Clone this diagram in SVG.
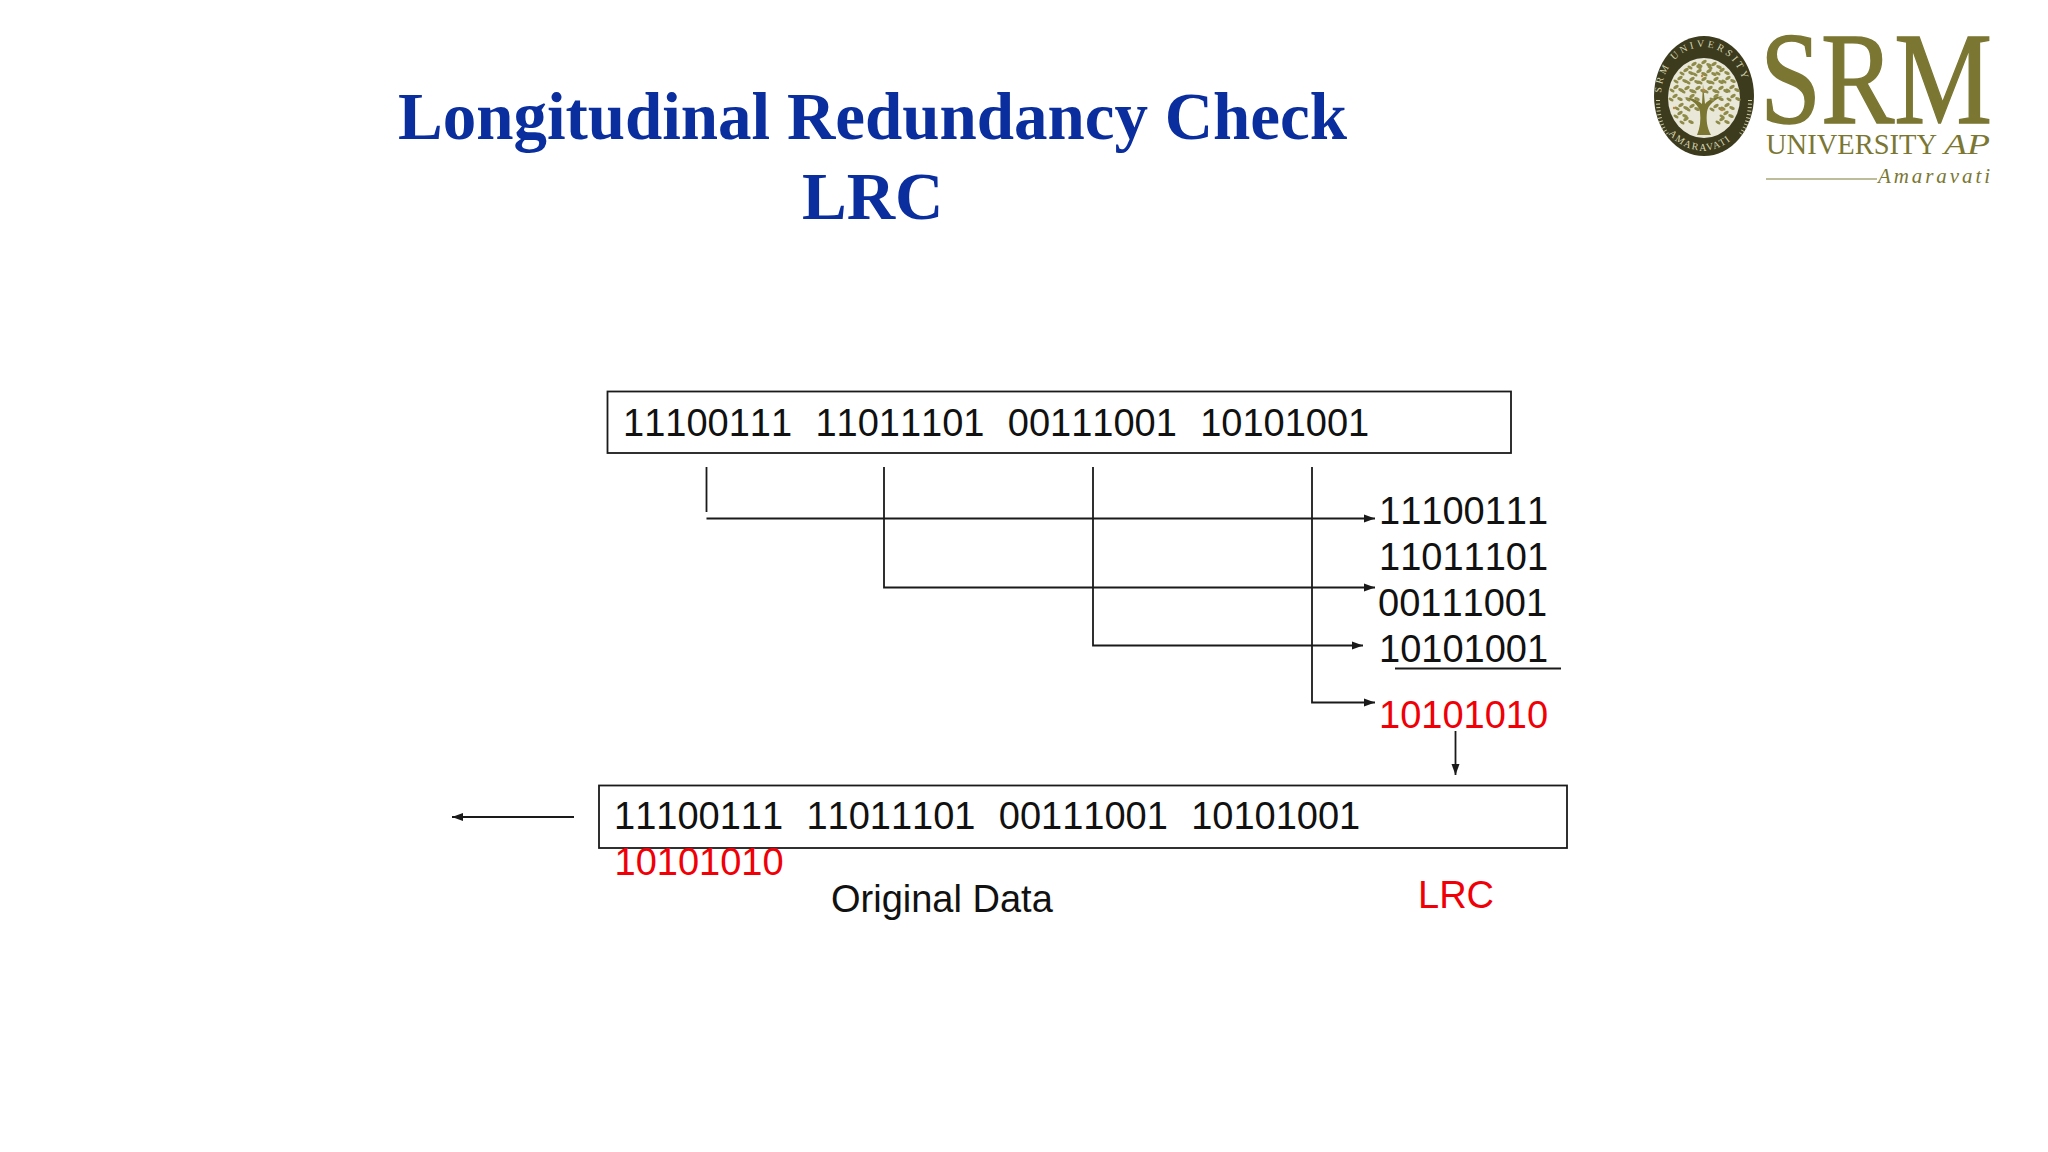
<svg xmlns="http://www.w3.org/2000/svg" xmlns:xlink="http://www.w3.org/1999/xlink" width="2048" height="1152" viewBox="0 0 2048 1152">
<style>
.t{font-family:"Liberation Sans",Arial,sans-serif;font-size:38px;fill:#111;font-kerning:none}
.w{word-spacing:1.1px}
.r{fill:#f00006}
.title{font-family:"Liberation Serif","Times New Roman",serif;font-weight:bold;font-size:67px;fill:#0b2e9e}
.box{fill:none;stroke:#1a1a1a;stroke-width:1.8}
.c{fill:none;stroke:#1a1a1a;stroke-width:1.8}
.o{font-family:"Liberation Serif","Times New Roman",serif;fill:#7b7733}
.s{font-family:"Liberation Serif",serif;font-size:10px;fill:#d8d6b0}
</style>
<defs>
<marker id="a" markerUnits="userSpaceOnUse" markerWidth="12" markerHeight="10" refX="11" refY="5" orient="auto"><path d="M0 1 L11 5 L0 9 Z" fill="#1a1a1a"/></marker>
<path id="arcTop" d="M1661 96 A42 49 0 0 1 1745 96"/>
<path id="arcBot" d="M1660 120 A48 55 0 0 0 1746 120"/>
<g id="leaf"><ellipse cx="0" cy="0" rx="3" ry="1.6" transform="rotate(-30)"/><ellipse cx="5" cy="3" rx="3" ry="1.6" transform="rotate(25 5 3)"/><ellipse cx="-4" cy="3.5" rx="2.8" ry="1.5" transform="rotate(30 -4 3.5)"/></g>
</defs>
<rect width="2048" height="1152" fill="#fff"/>
<g id="title">
<text class="title" x="398" y="139" textLength="949" lengthAdjust="spacing">Longitudinal Redundancy Check</text>
<text class="title" x="802" y="219">LRC</text>
</g>
<g id="logo">
<ellipse cx="1704" cy="96" rx="50" ry="60" fill="#3c3b1e"/>
<path d="M1658 100 C1658 115 1661 125 1667 134 M1750 100 C1750 115 1747 125 1741 134" fill="none" stroke="#cfcda3" stroke-width="4" stroke-dasharray="1 2.5"/>
<ellipse cx="1704" cy="98" rx="36" ry="40" fill="#e9e8d8"/>
<text class="s" letter-spacing="3"><textPath xlink:href="#arcTop" startOffset="3">SRM UNIVERSITY</textPath></text>
<text class="s" letter-spacing="1.5"><textPath xlink:href="#arcBot" startOffset="16">AMARAVATI</textPath></text>
<path d="M1697 135 C1700 128 1701 120 1700 112 C1699 105 1692 100 1684 97 C1693 98 1699 101 1702 104 L1703 84 L1705 104 C1708 100 1714 97 1723 96 C1714 100 1708 105 1707 112 C1706 120 1707 128 1711 135 Z" fill="#7b7733"/>
<g fill="#8e8b4a">
<use xlink:href="#leaf" x="1704" y="62"/><use xlink:href="#leaf" x="1694" y="64"/><use xlink:href="#leaf" x="1714" y="64"/>
<use xlink:href="#leaf" x="1686" y="70"/><use xlink:href="#leaf" x="1699" y="71"/><use xlink:href="#leaf" x="1709" y="71"/><use xlink:href="#leaf" x="1722" y="70"/>
<use xlink:href="#leaf" x="1680" y="78"/><use xlink:href="#leaf" x="1692" y="79"/><use xlink:href="#leaf" x="1704" y="79"/><use xlink:href="#leaf" x="1716" y="79"/><use xlink:href="#leaf" x="1728" y="78"/>
<use xlink:href="#leaf" x="1676" y="87"/><use xlink:href="#leaf" x="1687" y="88"/><use xlink:href="#leaf" x="1698" y="88"/><use xlink:href="#leaf" x="1710" y="88"/><use xlink:href="#leaf" x="1721" y="88"/><use xlink:href="#leaf" x="1732" y="87"/>
<use xlink:href="#leaf" x="1675" y="96"/><use xlink:href="#leaf" x="1692" y="96"/><use xlink:href="#leaf" x="1716" y="96"/><use xlink:href="#leaf" x="1733" y="96"/>
<use xlink:href="#leaf" x="1681" y="105"/><use xlink:href="#leaf" x="1727" y="105"/><use xlink:href="#leaf" x="1692" y="106"/><use xlink:href="#leaf" x="1716" y="106"/>
<use xlink:href="#leaf" x="1680" y="113"/><use xlink:href="#leaf" x="1726" y="113"/><use xlink:href="#leaf" x="1686" y="119"/><use xlink:href="#leaf" x="1722" y="119"/>
</g>
<g fill="#c8843a"><circle cx="1702" cy="76" r="1.2"/><circle cx="1704" cy="90" r="1.2"/><circle cx="1674" cy="108" r="1.2"/><circle cx="1722" cy="110" r="1.2"/></g>
<text class="o" x="1760" y="123" font-size="131" stroke="#7b7733" stroke-width="1.5" textLength="232" lengthAdjust="spacingAndGlyphs">SRM</text>
<text class="o" x="1766" y="154" font-size="30" textLength="171" lengthAdjust="spacingAndGlyphs">UNIVERSITY</text>
<text class="o" x="1944" y="154" font-size="30" font-style="italic" textLength="46" lengthAdjust="spacingAndGlyphs">AP</text>
<line x1="1766" y1="179" x2="1877" y2="179" stroke="#a9a779" stroke-width="1.5"/>
<text class="o" x="1878" y="183" font-size="21" font-style="italic" textLength="112" lengthAdjust="spacing">Amaravati</text>
</g>
<g id="top-frame">
<rect class="box" x="607.5" y="391.5" width="903.5" height="61.5"/>
<text class="t w" x="623" y="436" xml:space="preserve">11100111  11011101  00111001  10101001</text>
</g>
<g id="sum-stack">
<text class="t" x="1379" y="523.7">11100111</text>
<text class="t" x="1379" y="569.7">11011101</text>
<text class="t" x="1378" y="615.7">00111001</text>
<text class="t" x="1379" y="661.7">10101001</text>
<line class="c" x1="1395" y1="668.5" x2="1561" y2="668.5"/>
<text class="t r" x="1379" y="727.7">10101010</text>
</g>
<g id="bottom-frame">
<rect class="box" x="599" y="785.5" width="968" height="62.5"/>
<text class="t w" x="614" y="829" xml:space="preserve">11100111  11011101  00111001  10101001</text>
<text class="t r" x="614.5" y="875">10101010</text>
</g>
<g id="labels">
<text class="t" x="831" y="912">Original Data</text>
<text class="t r" x="1418" y="907.5">LRC</text>
</g>
<g id="connectors">
<path class="c" d="M706.5 467 V512"/>
<path class="c" d="M706.5 518.5 H1375" marker-end="url(#a)"/>
<path class="c" d="M884 467 V587.5 H1375" marker-end="url(#a)"/>
<path class="c" d="M1093 467 V645.5 H1363" marker-end="url(#a)"/>
<path class="c" d="M1312 467 V702.5 H1375" marker-end="url(#a)"/>
<path class="c" d="M1455.5 731 V775" marker-end="url(#a)"/>
<path class="c" d="M574 817 H452" marker-end="url(#a)"/>
</g>
</svg>
